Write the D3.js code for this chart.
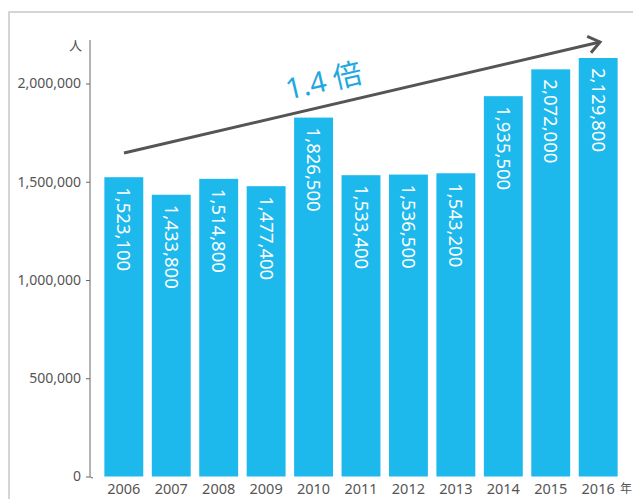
<!DOCTYPE html>
<html>
<head>
<meta charset="utf-8">
<script src="https://cdn.jsdelivr.net/npm/d3@7"></script>
<style>
  body { margin: 0; background: #fff; }
  text { font-family: "Noto Sans", "Noto Sans CJK JP", sans-serif; }
</style>
</head>
<body>
<script>
const years = ['2006', '2007', '2008', '2009', '2010', '2011', '2012', '2013', '2014', '2015', '2016'];
const visitors = [1523100, 1433800, 1514800, 1477400, 1826500, 1533400, 1536500, 1543200, 1935500, 2072000, 2129800];
const yTicks = [0, 500000, 1000000, 1500000, 2000000];

const width = 633;
const height = 499;

const svg = d3.select('body').append('svg')
    .attr('width', width)
    .attr('height', height);

// outer frame (only top and left are visible)
svg.append('path')
    .attr('d', 'M9,499 V12 H633')
    .attr('fill', 'none')
    .attr('stroke', '#c8c8c8')
    .attr('stroke-width', 1.5);

const x = d3.scaleBand()
    .domain(years)
    .range([102, 620])
    .paddingInner(0.18)
    .paddingOuter(0.05);

const y = d3.scaleLinear()
    .domain([0, 2000000])
    .range([476.5, 83.5]);

const fmt = d3.format(',');

// y axis
const yAxis = svg.append('g')
    .attr('transform', 'translate(90,0)')
    .call(d3.axisLeft(y).tickValues(yTicks).tickFormat(fmt).tickSize(4).tickPadding(5));
yAxis.select('.domain')
    .attr('d', 'M0,40 V476 Q0,478 3,478')
    .attr('stroke', '#666');
yAxis.selectAll('.tick line').attr('stroke', '#666');
yAxis.selectAll('.tick text')
    .attr('fill', '#555')
    .style('font-size', '14px');

svg.append('text')
    .attr('x', 82).attr('y', 50)
    .attr('text-anchor', 'end')
    .attr('fill', '#555')
    .style('font-size', '13px')
    .text('人');

// bars
svg.selectAll('.bar').data(years)
    .enter()
    .append('rect')
    .attr('class', 'bar')
    .attr('x', d => x(d))
    .attr('width', x.bandwidth())
    .attr('y', (d, i) => y(visitors[i]))
    .attr('height', (d, i) => y(0) - y(visitors[i]))
    .attr('fill', '#1db8ec');

// value labels, rotated
svg.selectAll('.val').data(years)
    .enter()
    .append('text')
    .attr('class', 'val')
    .attr('transform', (d, i) => `translate(${x(d) + x.bandwidth() / 2}, ${y(visitors[i]) + 10}) rotate(90)`)
    .attr('dy', '0.35em')
    .attr('fill', '#fff')
    .style('font-size', '18.5px')
    .text((d, i) => fmt(visitors[i]));

// x labels
svg.selectAll('.year').data(years)
    .enter()
    .append('text')
    .attr('class', 'year')
    .attr('x', d => x(d) + x.bandwidth() / 2)
    .attr('y', 494)
    .attr('text-anchor', 'middle')
    .attr('fill', '#555')
    .style('font-size', '14.5px')
    .text(d => d);

svg.append('text')
    .attr('x', 620).attr('y', 493)
    .attr('fill', '#555')
    .style('font-size', '12px')
    .text('年');

// growth arrow
const a0 = [124, 153], a1 = [600, 42];
const ang = Math.atan2(a1[1] - a0[1], a1[0] - a0[0]);
svg.append('line')
    .attr('x1', a0[0]).attr('y1', a0[1])
    .attr('x2', a1[0]).attr('y2', a1[1])
    .attr('stroke', '#555')
    .attr('stroke-width', 3);
const head = 14;
svg.append('path')
    .attr('d', `M${a1[0] + head * Math.cos(ang + 2.5)},${a1[1] + head * Math.sin(ang + 2.5)} L${a1[0]},${a1[1]} L${a1[0] + head * Math.cos(ang - 2.5)},${a1[1] + head * Math.sin(ang - 2.5)}`)
    .attr('fill', 'none')
    .attr('stroke', '#555')
    .attr('stroke-width', 3);

svg.append('text')
    .attr('transform', `translate(326,91) rotate(${ang * 180 / Math.PI})`)
    .attr('text-anchor', 'middle')
    .attr('fill', '#1fa8e0')
    .style('font-size', '29px')
    .text('1.4 倍');
</script>
</body>
</html>
